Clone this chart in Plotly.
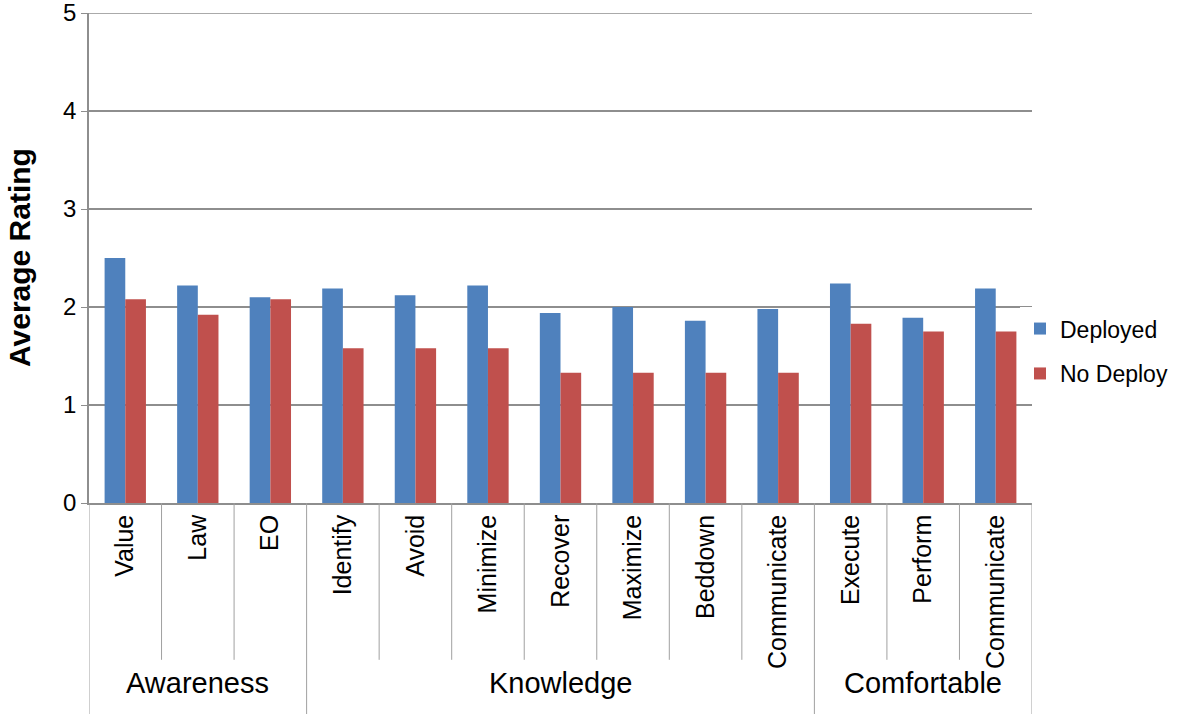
import plotly.graph_objects as go

items = ["Value", "Law", "EO", "Identify", "Avoid", "Minimize", "Recover",
         "Maximize", "Beddown", "Communicate", "Execute", "Perform", "Communicate"]
groups = ["Awareness", "Knowledge", "Comfortable"]
group_sizes = [3, 7, 3]
deployed = [2.50, 2.22, 2.10, 2.19, 2.12, 2.22, 1.94, 2.00, 1.86, 1.98, 2.24, 1.89, 2.19]
no_deploy = [2.08, 1.92, 2.08, 1.58, 1.58, 1.58, 1.33, 1.33, 1.33, 1.33, 1.83, 1.75, 1.75]
y_ticks = [0, 1, 2, 3, 4, 5]

idx = list(range(len(items)))
FONT = "Liberation Sans, Arial, sans-serif"
GRID = "#8e8e8e"

fig = go.Figure()
fig.add_trace(go.Bar(x=idx, y=deployed, name="Deployed", marker_color="#4F81BD",
                     marker_line_width=0, legendgroup="a"))
fig.add_trace(go.Bar(x=idx, y=no_deploy, name="No Deploy", marker_color="#C0504D",
                     marker_line_width=0, legendgroup="b"))

# top gridline (axis maximum)
fig.add_shape(type="line", xref="paper", yref="y", x0=0, x1=1,
              y0=y_ticks[-1], y1=y_ticks[-1], line=dict(color=GRID, width=1.5),
              layer="below")

# category dividers
bounds = [i - 0.5 for i in range(len(items) + 1)]
group_edges = [0]
for s in group_sizes:
    group_edges.append(group_edges[-1] + s)
for b in range(len(items) + 1):
    major = b in group_edges
    fig.add_shape(type="line", xref="x", yref="paper", x0=bounds[b], x1=bounds[b],
                  y0=0, y1=-0.44 if major else -0.32,
                  line=dict(color="#a0a0a0", width=1))

# group labels
for g, name in enumerate(groups):
    c = (group_edges[g] + group_edges[g + 1] - 1) / 2
    fig.add_annotation(x=c, xref="x", y=-0.367, yref="paper", text=name,
                       showarrow=False, font=dict(family=FONT, size=29, color="black"),
                       yanchor="middle")

# y-axis title
fig.add_annotation(x=-70 / 943, xref="paper", xanchor="center", y=0.5, yref="paper",
                   text="<b>Average Rating</b>", textangle=-90, showarrow=False,
                   font=dict(family=FONT, size=30, color="black"))

fig.update_layout(
    width=1200, height=714,
    margin=dict(l=89, r=168, t=13, b=211, autoexpand=False),
    paper_bgcolor="white", plot_bgcolor="white",
    barmode="group", bargap=0.43, bargroupgap=0,
    font=dict(family=FONT, color="black"),
    legend=dict(x=1.0 - 12 / 943, xanchor="left", y=0.31, yanchor="middle",
                font=dict(size=23, family=FONT), tracegroupgap=12,
                itemwidth=30),
    showlegend=True,
)
fig.update_xaxes(range=[-0.5, len(items) - 0.5], tickvals=idx, ticktext=items,
                 tickangle=-90, showgrid=False, zeroline=False, showline=True,
                 linecolor=GRID, linewidth=1.5, ticks="", automargin=False,
                 tickfont=dict(size=25, family=FONT))
fig.update_yaxes(range=[0, 5], tickvals=y_ticks, showgrid=True, gridcolor=GRID,
                 gridwidth=1.5, zeroline=False, showline=True, linecolor=GRID,
                 linewidth=1.5, ticks="outside", ticklen=6, tickcolor=GRID,
                 automargin=False, ticklabeloverflow="allow",
                 tickfont=dict(size=24, family=FONT))

fig.write_html("out.html", config={"displayModeBar": False},
               post_script="document.body.style.margin='0';document.body.style.overflow='hidden';")
